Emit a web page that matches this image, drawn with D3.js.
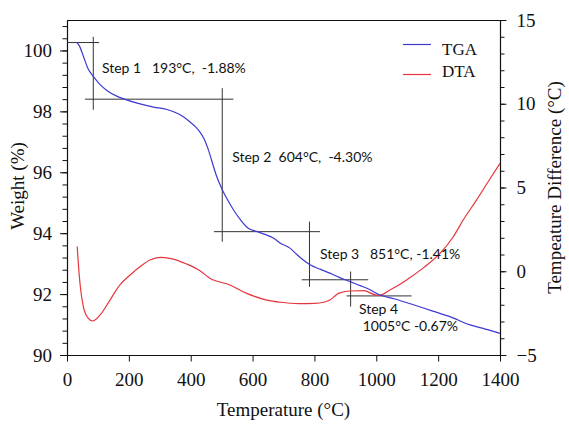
<!DOCTYPE html>
<html><head><meta charset="utf-8">
<script src="https://cdn.jsdelivr.net/npm/d3@7"></script>
<style>
body{margin:0;background:#fff;}
svg{display:block;}
.serif{font-family:"Liberation Serif","Times New Roman",serif;fill:#111;}
.ann{font-family:Lato,"Noto Sans",sans-serif;font-size:14px;fill:#111;white-space:pre;}
</style></head>
<body>
<svg id="c" width="569" height="432"></svg>
<script>
// ---- data ----
const tgaTemp   = [31,40,53,69,85,107,130,161,181,230,280,323,375,398,415,430,443,455,468,484,502,520,538,560,586,613,640,667,690,721,743,764,786,820,850,880,915,950,980,1012,1060,1120,1180,1238,1303,1350,1400];
const tgaWeight = [100.27,100.15,99.81,99.38,99.15,98.88,98.68,98.5,98.42,98.26,98.14,98.06,97.83,97.65,97.5,97.32,97.1,96.8,96.38,95.86,95.43,95.08,94.77,94.45,94.16,94.06,93.96,93.84,93.67,93.51,93.3,93.12,92.96,92.81,92.69,92.55,92.41,92.27,92.14,91.97,91.84,91.65,91.45,91.26,90.99,90.86,90.71];
const dtaTemp   = [33,40,53,69,83,107,139,171,204,236,268,301,333,387,430,462,527,581,646,690,750,800,830,850,861,878,915,959,1001,1012,1044,1070,1098,1152,1206,1249,1281,1324,1360,1400];
const dtaDiff   = [1.47,-0.33,-2.12,-2.81,-2.97,-2.61,-1.72,-0.82,-0.22,0.27,0.67,0.83,0.77,0.43,0.03,-0.42,-0.82,-1.32,-1.72,-1.85,-1.93,-1.92,-1.85,-1.72,-1.56,-1.32,-1.18,-1.16,-1.42,-1.42,-1.12,-0.85,-0.52,0.2,1.07,2.06,3.06,4.25,5.3,6.44];

const xTicks  = [0,200,400,600,800,1000,1200,1400];
const yLTicks = [90,92,94,96,98,100];
const yRTicks = [-5,0,5,10,15];

// step annotation guide lines (temperature, weight)
const stepV = [ // vertical: T, W1, W2
  [85,100.45,98.05],[502,98.76,93.72],[784,94.38,92.24],[917,92.74,91.59]];
const stepH = [ // horizontal: W, T1, T2
  [100.26,0,104],[98.40,58,538],[94.05,475,818],[92.47,759,974],[91.94,904,1114]];
const stepLabels = [ // T, W, text
  [113,99.26,"Step 1   193°C,  -1.88%"],
  [534,96.34,"Step 2  604°C,  -4.30%"],
  [818,93.14,"Step 3   851°C, -1.41%"],
  [944,91.34,"Step 4"],
  [956,90.79,"1005°C -0.67%"]];
const legendNames = ["TGA","DTA"];

// ---- chart ----
const L=67,R=500,T=20,B=355;
const svg=d3.select("#c");
const x=d3.scaleLinear().domain([0,1400]).range([L,R]);
const yL=d3.scaleLinear().domain([90,101]).range([B,T]);
const yR=d3.scaleLinear().domain([-5,15]).range([B,T]);
const blue="#3d3ad2", red="#e8343c";

// frame top line
svg.append("line").attr("x1",L).attr("x2",R).attr("y1",T+0.5).attr("y2",T+0.5).attr("stroke","#111").attr("stroke-width",1.2);

function styleAxis(g){
  g.select(".domain").attr("stroke","#111").attr("stroke-width",1.2);
  g.selectAll(".tick line").attr("stroke","#111").attr("stroke-width",1);
  g.selectAll("text").attr("class","serif").style("font-size","19px").attr("fill","#111");
}
// minor ticks
svg.append("g").attr("transform",`translate(${L},0)`)
  .call(d3.axisLeft(yL).tickValues(d3.range(0,28).map(i=>90+i*0.4)).tickSize(4.5).tickFormat(""))
  .call(g=>{g.select(".domain").remove();g.selectAll("line").attr("stroke","#111");});
svg.append("g").attr("transform",`translate(${R},0)`)
  .call(d3.axisRight(yR).tickValues(d3.range(-5,16,1)).tickSize(4.5).tickFormat(""))
  .call(g=>{g.select(".domain").remove();g.selectAll("line").attr("stroke","#111");});

svg.append("g").attr("transform",`translate(0,${B})`)
  .call(d3.axisBottom(x).tickValues(xTicks).tickFormat(d3.format("d")).tickSize(6.5).tickPadding(11).tickSizeOuter(0)).call(styleAxis);
svg.append("g").attr("transform",`translate(${L},0)`)
  .call(d3.axisLeft(yL).tickValues(yLTicks).tickFormat(d3.format("d")).tickSize(7).tickPadding(8).tickSizeOuter(0)).call(styleAxis);
svg.append("g").attr("transform",`translate(${R},0)`)
  .call(d3.axisRight(yR).tickValues(yRTicks).tickFormat(d3.format("d")).tickSize(6.5).tickPadding(10).tickSizeOuter(0)).call(styleAxis);

// annotation guides
svg.append("g").selectAll("line.v").data(stepV).join("line")
  .attr("x1",d=>x(d[0])).attr("x2",d=>x(d[0])).attr("y1",d=>yL(d[1])).attr("y2",d=>yL(d[2]))
  .attr("stroke","#333").attr("stroke-width",1);
svg.append("g").selectAll("line.h").data(stepH).join("line")
  .attr("x1",d=>x(d[1])).attr("x2",d=>x(d[2])).attr("y1",d=>yL(d[0])).attr("y2",d=>yL(d[0]))
  .attr("stroke","#333").attr("stroke-width",1);

// curves
const tga=tgaTemp.map((t,i)=>[t,tgaWeight[i]]);
const dta=dtaTemp.map((t,i)=>[t,dtaDiff[i]]);
svg.append("path").datum(dta).attr("fill","none").attr("stroke",red).attr("stroke-width",1.2)
  .attr("d",d3.line().x(d=>x(d[0])).y(d=>yR(d[1])).curve(d3.curveMonotoneX));
svg.append("path").datum(tga).attr("fill","none").attr("stroke",blue).attr("stroke-width",1.2)
  .attr("d",d3.line().x(d=>x(d[0])).y(d=>yL(d[1])).curve(d3.curveMonotoneX));

// step labels
svg.append("g").selectAll("text").data(stepLabels).join("text").attr("class","ann")
  .attr("x",d=>x(d[0])).attr("y",d=>yL(d[1])).text(d=>d[2]);

// legend
const lg=svg.append("g");
[[legendNames[0],blue,44.5,55],[legendNames[1],red,74.5,77]].forEach(([n,c,ly,ty])=>{
  lg.append("line").attr("x1",403).attr("x2",431).attr("y1",ly).attr("y2",ly).attr("stroke",c).attr("stroke-width",1.2);
  lg.append("text").attr("class","serif").attr("x",442).attr("y",ty).style("font-size","17px").text(n);
});

// axis titles
svg.append("text").attr("class","serif").attr("x",(L+R)/2).attr("y",416).attr("text-anchor","middle")
  .style("font-size","19px").text("Temperature (°C)");
svg.append("text").attr("class","serif").attr("transform","translate(24,186) rotate(-90)").attr("text-anchor","middle")
  .style("font-size","19px").text("Weight (%)");
svg.append("text").attr("class","serif").attr("transform","translate(561,187.5) rotate(-90)").attr("text-anchor","middle")
  .style("font-size","19px").text("Tempeature Difference (°C)");
</script>
</body></html>
